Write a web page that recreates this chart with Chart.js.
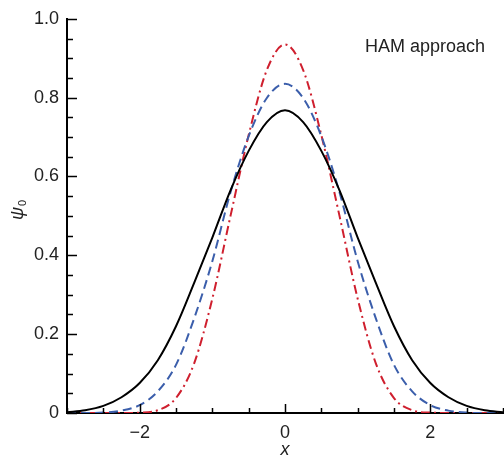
<!DOCTYPE html>
<html>
<head>
<meta charset="utf-8">
<script src="https://cdn.jsdelivr.net/npm/chart.js@4.4.1/dist/chart.umd.min.js"></script>
<style>
    html, body { margin: 0; padding: 0; background: #fff; }
    #wrap { width: 504px; height: 458px; }
</style>
</head>
<body>
<div id="wrap"><canvas id="psiChart"></canvas></div>
<script>
// values
const xValues = [-3, -2.75, -2.5, -2.25, -2, -1.75, -1.5, -1.25, -1, -0.75, -0.5, -0.25, 0,
                 0.25, 0.5, 0.75, 1, 1.25, 1.5, 1.75, 2, 2.25, 2.5, 2.75, 3];
const solidCurve = [0.002, 0.007, 0.018, 0.04, 0.076, 0.134, 0.22, 0.33, 0.445, 0.565, 0.665, 0.738, 0.768,
                    0.738, 0.665, 0.565, 0.445, 0.33, 0.22, 0.134, 0.076, 0.04, 0.018, 0.007, 0.002];
const dashedCurve = [0, 0, 0.001, 0.006, 0.02, 0.055, 0.122, 0.24, 0.385, 0.56, 0.702, 0.799, 0.835,
                     0.799, 0.702, 0.56, 0.385, 0.24, 0.122, 0.055, 0.02, 0.006, 0.001, 0, 0];
const dashDotCurve = [0, 0, 0, 0, 0.001, 0.007, 0.038, 0.126, 0.29, 0.5, 0.705, 0.87, 0.935,
                      0.87, 0.705, 0.5, 0.29, 0.126, 0.038, 0.007, 0.001, 0, 0, 0, 0];
const xTickValues = [-2, 0, 2];
const yTickValues = [0, 0.2, 0.4, 0.6, 0.8, 1.0];

const FONT = '"Liberation Sans", Arial, sans-serif';

function toPoints(ys) {
    return xValues.map((x, i) => ({ x: x, y: ys[i] }));
}

// inward tick marks, axis titles and the annotation
const decorPlugin = {
    id: 'decor',
    afterDraw(chart) {
        const ctx = chart.ctx;
        const area = chart.chartArea;
        const xs = chart.scales.x;
        const ys = chart.scales.y;
        ctx.save();
        ctx.strokeStyle = '#000';
        ctx.lineWidth = 1.5;
        ctx.beginPath();
        for (let i = -6; i <= 6; i++) {
            const v = i * 0.5;
            const px = Math.round(xs.getPixelForValue(v)) + 0.5;
            const len = (i % 4 === 0) ? 9 : 5;
            ctx.moveTo(px, area.bottom);
            ctx.lineTo(px, area.bottom - len);
        }
        for (let i = 0; i <= 20; i++) {
            const v = i * 0.05;
            const py = Math.round(ys.getPixelForValue(v)) + 0.5;
            const len = (i % 4 === 0) ? 10 : 6;
            ctx.moveTo(area.left, py);
            ctx.lineTo(area.left + len, py);
        }
        ctx.stroke();

        ctx.fillStyle = '#222';
        ctx.font = '18px ' + FONT;
        ctx.textAlign = 'left';
        ctx.textBaseline = 'alphabetic';
        ctx.fillText('HAM approach', 365, 52);

        ctx.font = 'italic 18px ' + FONT;
        ctx.textAlign = 'center';
        ctx.fillText('x', xs.getPixelForValue(0), 455);

        // rotated y title: psi with subscript 0
        ctx.translate(23, 212);
        ctx.rotate(-Math.PI / 2);
        ctx.textAlign = 'left';
        ctx.font = 'italic 18px ' + FONT;
        ctx.fillText('ψ', -8, 0);
        const w = ctx.measureText('ψ').width;
        ctx.font = '11px ' + FONT;
        ctx.fillText('0', -8 + w + 1, 3);
        ctx.restore();
    }
};

const ctx = document.getElementById('psiChart').getContext('2d');
const psiChart = new Chart(ctx, {
    type: 'line',
    data: {
        datasets: [{
            label: 'solid',
            data: toPoints(solidCurve),
            borderColor: '#000000',
            borderWidth: 2,
            pointRadius: 0,
            cubicInterpolationMode: 'monotone'
        }, {
            label: 'dashed',
            data: toPoints(dashedCurve),
            borderColor: '#3b5eab',
            borderWidth: 2,
            borderDash: [9, 5],
            pointRadius: 0,
            cubicInterpolationMode: 'monotone'
        }, {
            label: 'dash-dot',
            data: toPoints(dashDotCurve),
            borderColor: '#cf1f2e',
            borderWidth: 2,
            borderDash: [9, 4, 2, 4],
            pointRadius: 0,
            cubicInterpolationMode: 'monotone'
        }]
    },
    options: {
        responsive: true,
        maintainAspectRatio: false,
        animation: false,
        layout: {
            padding: { top: 16, right: 1, left: 0, bottom: 0 }
        },
        plugins: {
            legend: { display: false },
            tooltip: { enabled: false }
        },
        scales: {
            x: {
                type: 'linear',
                min: -3,
                max: 3,
                afterBuildTicks: function(scale) {
                    scale.ticks = xTickValues.map(v => ({ value: v }));
                },
                afterFit: function(scale) {
                    scale.height = 45;
                },
                grid: { display: false, drawTicks: false },
                border: { display: true, color: '#000', width: 2 },
                ticks: {
                    padding: 9,
                    color: '#222',
                    font: { family: FONT, size: 18 },
                    maxRotation: 0,
                    callback: function(v) {
                        return v < 0 ? '\u2212' + Math.abs(v) : String(v);
                    }
                }
            },
            y: {
                min: 0,
                max: 1,
                afterBuildTicks: function(scale) {
                    scale.ticks = yTickValues.map(v => ({ value: v }));
                },
                afterFit: function(scale) {
                    scale.width = 67;
                },
                grid: { display: false, drawTicks: false },
                border: { display: true, color: '#000', width: 2 },
                ticks: {
                    padding: 8,
                    color: '#222',
                    font: { family: FONT, size: 18 },
                    callback: function(v) {
                        return v === 0 ? '0' : v.toFixed(1);
                    }
                }
            }
        }
    },
    plugins: [decorPlugin]
});
</script>
</body>
</html>
